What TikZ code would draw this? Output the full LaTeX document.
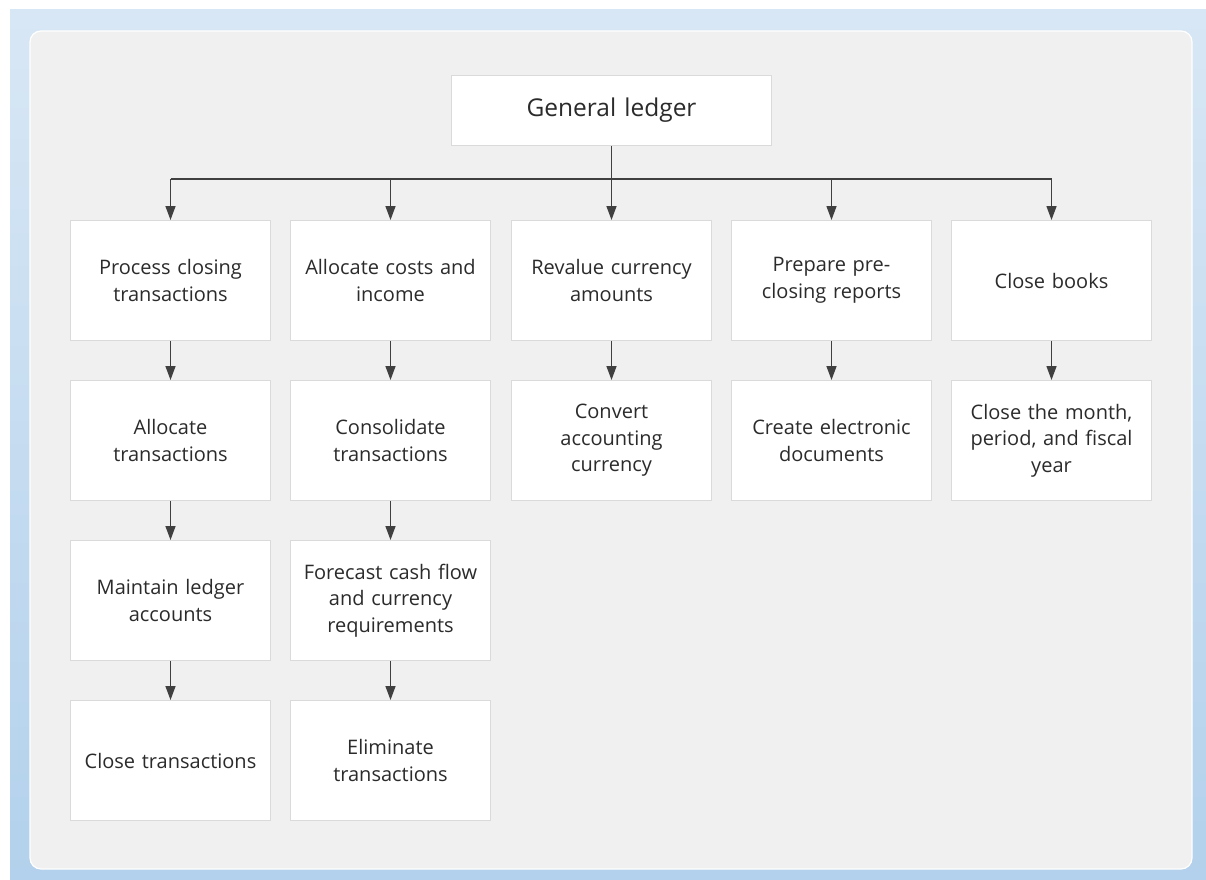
\documentclass[tikz,border=0pt]{standalone}
\usepackage{fontspec}
\setmainfont{Open Sans}
\usetikzlibrary{arrows.meta}
\definecolor{bgtop}{HTML}{D8E7F5}
\definecolor{bgbot}{HTML}{B3D1EC}
\definecolor{panel}{HTML}{F0F0F0}
\definecolor{boxline}{HTML}{DADADA}
\definecolor{conn}{HTML}{404040}
\definecolor{txt}{HTML}{2B2B2B}
\tikzset{
  box/.style={draw=boxline, line width=1pt, fill=white, minimum width=200pt, minimum height=120pt,
    inner sep=0pt, align=center, text width=196pt, text=txt,
    font=\fontsize{20pt}{26.5pt}\selectfont, anchor=north west},
  topbox/.style={box, minimum width=320pt, minimum height=70pt, text width=300pt,
    font=\fontsize{24.5pt}{28pt}\selectfont},
  link/.style={draw=conn, line width=1.4pt, -{Triangle[length=14pt,width=10pt]}},
  bus/.style={draw=conn, line width=1.4pt}
}
\begin{document}
\begin{tikzpicture}[x=1pt,y=-1pt]
\useasboundingbox (0,0) rectangle (1206,879);
\fill[white] (0,0) rectangle (1206,879);
\shade[top color=bgtop, bottom color=bgbot] (10,9) rectangle (1206,879);
\draw[white, line width=1.2pt, fill=panel, rounded corners=11pt] (30,31) rectangle (1192,869);
\node[topbox] (gl) at (451,75) {General ledger};
% column 1
\node[box] (a1) at (70,220) {Process closing\\transactions};
\node[box] (a2) at (70,380) {Allocate\\transactions};
\node[box] (a3) at (70,540) {Maintain ledger\\accounts};
\node[box] (a4) at (70,700) {Close transactions};
% column 2
\node[box] (b1) at (290,220) {Allocate costs and\\income};
\node[box] (b2) at (290,380) {Consolidate\\transactions};
\node[box] (b3) at (290,540) {Forecast cash flow\\and currency\\requirements};
\node[box] (b4) at (290,700) {Eliminate\\transactions};
% column 3
\node[box] (c1) at (511,220) {Revalue currency\\amounts};
\node[box] (c2) at (511,380) {Convert\\accounting\\currency};
% column 4
\node[box] (d1) at (731,220) {Prepare pre-\\closing reports};
\node[box] (d2) at (731,380) {Create electronic\\documents};
% column 5
\node[box] (e1) at (951,220) {Close books};
\node[box] (e2) at (951,380) {Close the month,\\period, and fiscal\\year};
% bus
\coordinate (busL) at (a1.north |- 0,179);
\coordinate (busR) at (e1.north |- 0,179);
\draw[bus] (busL) -- (busR);
\draw[bus] (gl.south) -- (gl.south |- busL);
\foreach \n in {a1,b1,c1,d1,e1} {
  \draw[link] (\n.north |- busL) -- (\n.north);
}
\foreach \u/\v in {a1/a2,a2/a3,a3/a4,b1/b2,b2/b3,b3/b4,c1/c2,d1/d2,e1/e2} {
  \draw[link] (\u.south) -- (\v.north);
}
\end{tikzpicture}
\end{document}
